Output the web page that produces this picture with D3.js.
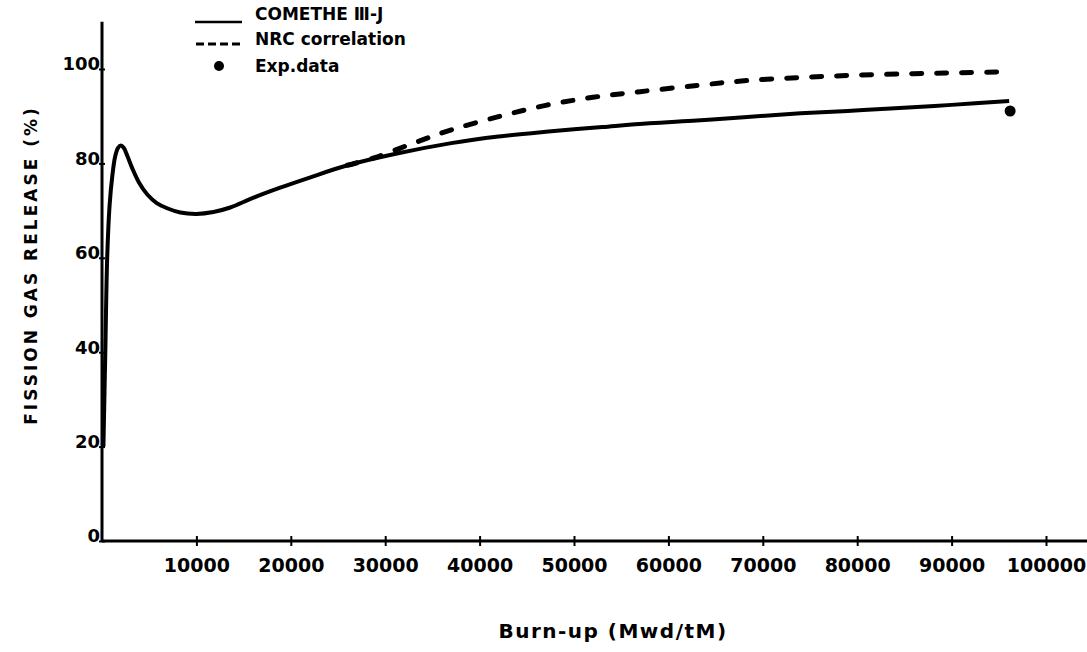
<!DOCTYPE html>
<html>
<head>
<meta charset="utf-8">
<script src="https://cdn.jsdelivr.net/npm/d3@7"></script>
<style>
  html, body { margin: 0; padding: 0; background: #fff; }
  svg { display: block; }
  text { font-family: "DejaVu Sans", sans-serif; font-weight: bold; fill: #000; }
</style>
</head>
<body>
<svg id="chart" width="1087" height="652"></svg>
<script>
// burn-up (MWd/tM) and fission gas release (%)
const cometheBurnup = [150, 350, 550, 800, 1100, 1400, 1700, 2000, 2300, 2700, 3200, 3900, 4800, 5800, 6900, 8300, 10000,
  11800, 13500, 16000, 18800, 22000, 26000, 31000, 37000, 42000, 47000, 53000, 58000, 63000, 68000, 74000, 79000,
  84000, 90000, 96100];
const cometheRelease = [20, 40, 60, 71, 77.5, 81.5, 83.3, 83.8, 83.3, 81.5, 79, 76, 73.4, 71.6, 70.5, 69.6, 69.3,
  69.7, 70.6, 72.7, 74.8, 77, 79.6, 82, 84.3, 85.7, 86.7, 87.7, 88.5, 89.1, 89.8, 90.6, 91.1,
  91.7, 92.4, 93.2];

const nrcBurnup = [26000, 29000, 33000, 37000, 42000, 47000, 52000, 57000, 63000, 68000, 74000, 80000, 86000, 91000, 96000];
const nrcRelease = [79.6, 81.3, 84.3, 87.1, 89.9, 92.3, 94, 95.2, 96.5, 97.5, 98.2, 98.7, 99, 99.2, 99.4];

const expBurnup = [96200];
const expRelease = [91.1];

const xTicks = [10000, 20000, 30000, 40000, 50000, 60000, 70000, 80000, 90000, 100000];
const yTicks = [0, 20, 40, 60, 80, 100];

const legendLabels = ["COMETHE \u2162-J", "NRC correlation", "Exp.data"];

const svg = d3.select('#chart');
const W = 1087;

const x = d3.scaleLinear().domain([0, 100000]).range([102, 1046]);
const y = d3.scaleLinear().domain([0, 100]).range([541, 69]);

// x axis
const gx = svg.append('g').attr('transform', `translate(0,${y(0)})`);
gx.call(d3.axisBottom(x).tickValues(xTicks).tickFormat(d3.format('d')).tickSizeOuter(0));
gx.select('.domain').attr('d', `M${x(0)},0H${W}`).attr('stroke', '#000').attr('stroke-width', 3);
gx.selectAll('.tick line').attr('y1', -5).attr('y2', 5).attr('stroke', '#000').attr('stroke-width', 2);
gx.selectAll('.tick text')
  .attr('y', 31).attr('dy', 0)
  .style('font-family', '"DejaVu Sans", sans-serif').style('font-weight', 'bold')
  .style('font-size', '19px').attr('fill', '#000');

// y axis
const gy = svg.append('g').attr('transform', `translate(${x(0)},0)`);
gy.call(d3.axisLeft(y).tickValues(yTicks).tickSizeOuter(0));
gy.select('.domain').attr('d', `M0,${y(0)}V${y(110)}`).attr('stroke', '#000').attr('stroke-width', 3);
gy.selectAll('.tick line').attr('x1', -3).attr('x2', 3).attr('stroke', '#000').attr('stroke-width', 2);
gy.selectAll('.tick text')
  .attr('x', -2).attr('dy', '0.05em')
  .style('font-family', '"DejaVu Sans", sans-serif').style('font-weight', 'bold')
  .style('font-size', '18px').attr('fill', '#000');

// axis titles
svg.append('text')
  .attr('transform', 'translate(37,265) rotate(-90)')
  .attr('text-anchor', 'middle')
  .style('font-size', '17px').style('letter-spacing', '3px')
  .text('FISSION GAS RELEASE (%)');

svg.append('text')
  .attr('x', 613).attr('y', 638)
  .attr('text-anchor', 'middle')
  .style('font-size', '20px').style('letter-spacing', '1.5px')
  .text('Burn-up (Mwd/tM)');

// curves
const comethe = cometheBurnup.map((b, i) => [b, cometheRelease[i]]);
const nrc = nrcBurnup.map((b, i) => [b, nrcRelease[i]]);

const line = d3.line().x(d => x(d[0])).y(d => y(d[1])).curve(d3.curveCatmullRom.alpha(0.5));

svg.append('path').datum(nrc)
  .attr('d', line)
  .attr('fill', 'none').attr('stroke', '#000').attr('stroke-width', 5)
  .attr('stroke-linecap', 'round').attr('stroke-dasharray', '10 15');

svg.append('path').datum(comethe)
  .attr('d', line)
  .attr('fill', 'none').attr('stroke', '#000').attr('stroke-width', 4)
  .attr('stroke-linejoin', 'round');

svg.selectAll('.exp')
  .data(expBurnup)
  .enter()
  .append('circle')
  .attr('class', 'exp')
  .attr('cx', d => x(d))
  .attr('cy', (d, i) => y(expRelease[i]))
  .attr('r', 5.5)
  .attr('fill', '#000');

// legend
const lg = svg.append('g');
lg.append('line').attr('x1', 195).attr('x2', 242).attr('y1', 22).attr('y2', 22)
  .attr('stroke', '#000').attr('stroke-width', 2.5);
lg.append('line').attr('x1', 196).attr('x2', 242).attr('y1', 44).attr('y2', 44)
  .attr('stroke', '#000').attr('stroke-width', 3).attr('stroke-dasharray', '8 4');
lg.append('circle').attr('cx', 219).attr('cy', 66).attr('r', 5).attr('fill', '#000');

lg.selectAll('.lgtext')
  .data(legendLabels)
  .enter()
  .append('text')
  .attr('class', 'lgtext')
  .attr('x', 255)
  .attr('y', (d, i) => [20, 45, 72][i])
  .style('font-size', '17px')
  .text(d => d);
</script>
</body>
</html>
